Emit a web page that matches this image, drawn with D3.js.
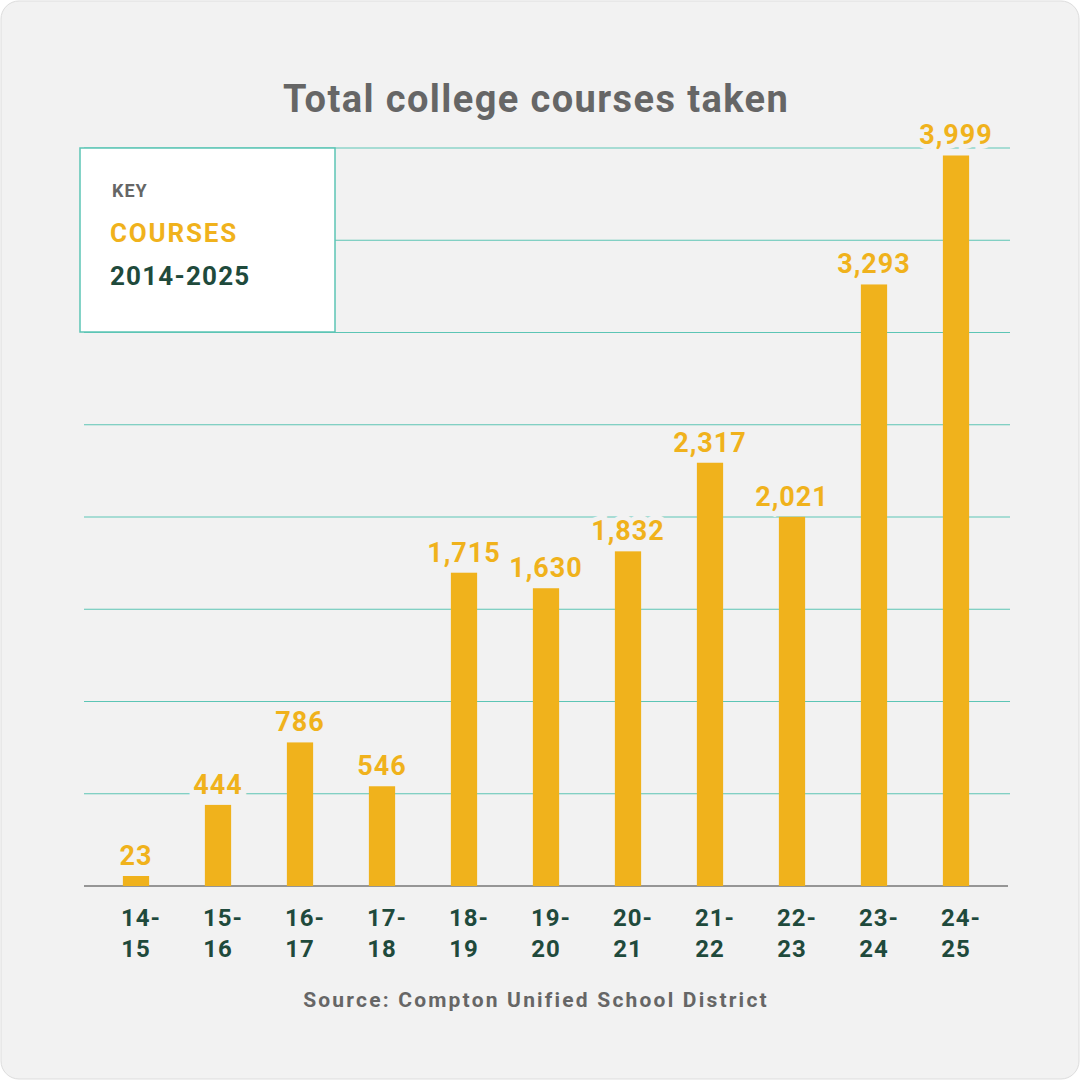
<!DOCTYPE html>
<html><head><meta charset="utf-8">
<script src="https://cdn.jsdelivr.net/npm/d3@7"></script>
<style>body{margin:0;background:#fff}svg{display:block}text{font-family:Roboto,"DejaVu Sans",sans-serif;font-weight:700}</style>
</head><body><svg id="c" width="1080" height="1080"></svg>
<script>
const categories=["14-15","15-16","16-17","17-18","18-19","19-20","20-21","21-22","22-23","23-24","24-25"];
const values=[23,444,786,546,1715,1630,1832,2317,2021,3293,3999];
const gridTicks=[505,1010,1515,2020,2525,3030,3535,4040];
const svg=d3.select("#c");
const gold="#f0b21c",green="#1f4a3c",teal="#5cc5b5",grey="#666";
svg.append("rect").attr("x",1).attr("y",1).attr("width",1078).attr("height",1078).attr("rx",18).attr("fill","#f2f2f2").attr("stroke","#ddd");
const x=d3.scaleBand().domain(categories).range([95,997]).paddingInner(0.68).paddingOuter(0.34);
const y=d3.scaleLinear().domain([0,4040]).range([886,148]);
svg.append("g").selectAll("line").data(gridTicks).join("line")
 .attr("x1",84).attr("x2",1010).attr("y1",d=>y(d)).attr("y2",d=>y(d)).attr("stroke",teal).attr("stroke-width",1.2);
svg.append("line").attr("x1",84).attr("x2",1008).attr("y1",y(0)).attr("y2",y(0)).attr("stroke","#777").attr("stroke-width",1.5);
svg.append("g").selectAll("rect").data(values).join("rect")
 .attr("x",(d,i)=>x(categories[i])).attr("width",x.bandwidth())
 .attr("y",d=>Math.min(y(d),876)).attr("height",d=>y(0)-Math.min(y(d),876)).attr("fill",gold);
const fmt=d3.format(",");
svg.append("g").selectAll("text").data(values).join("text")
 .attr("x",(d,i)=>x(categories[i])+x.bandwidth()/2).attr("y",d=>Math.min(y(d),876)-11)
 .attr("text-anchor","middle").attr("font-size",27).attr("letter-spacing",1).attr("fill",gold)
 .attr("stroke","#f2f2f2").attr("stroke-width",10).attr("paint-order","stroke")
 .text(d=>fmt(d));
const lab=svg.append("g").selectAll("text").data(categories).join("text")
 .attr("x",d=>x(d)+x.bandwidth()/2).attr("text-anchor","middle").attr("font-size",24).attr("letter-spacing",1).attr("fill",green);
lab.append("tspan").attr("y",926).attr("dx",5).text(d=>d.split("-")[0]+"-");
lab.append("tspan").attr("x",d=>x(d)+x.bandwidth()/2).attr("y",957).text(d=>d.split("-")[1]);
svg.append("text").attr("x",536).attr("y",112).attr("text-anchor","middle").attr("font-size",38).attr("letter-spacing",1.4).attr("fill",grey).text("Total college courses taken");
svg.append("text").attr("x",536).attr("y",1007).attr("text-anchor","middle").attr("font-size",21).attr("letter-spacing",2.2).attr("fill",grey).text("Source: Compton Unified School District");
svg.append("rect").attr("x",80).attr("y",148).attr("width",255).attr("height",184).attr("fill","#fff").attr("stroke",teal).attr("stroke-width",1.5);
svg.append("text").attr("x",112).attr("y",197).attr("font-size",18).attr("letter-spacing",1).attr("fill",grey).text("KEY");
svg.append("text").attr("x",110).attr("y",242).attr("font-size",26).attr("letter-spacing",1.8).attr("fill",gold).text("COURSES");
svg.append("text").attr("x",110).attr("y",285).attr("font-size",26).attr("letter-spacing",1.2).attr("fill",green).text("2014-2025");
</script></body></html>
